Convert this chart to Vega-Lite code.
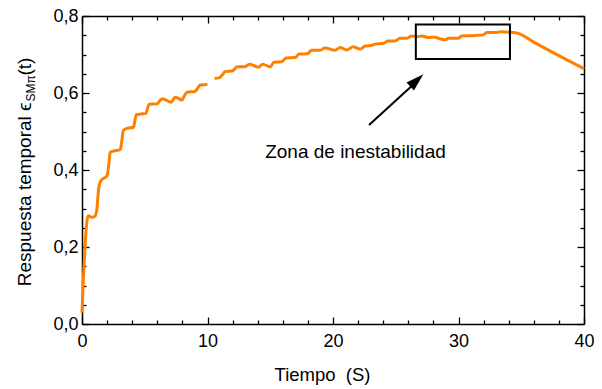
{
  "$schema": "https://vega.github.io/schema/vega-lite/v6.json",
  "width": 502,
  "height": 308,
  "autosize": {"type": "none"},
  "padding": {"left": 82, "top": 16, "right": 18, "bottom": 65},
  "background": "white",
  "config": {
    "view": {"stroke": null},
    "font": "Liberation Sans",
    "axis": {
      "grid": false,
      "domainColor": "black",
      "domainWidth": 1.5,
      "tickColor": "black",
      "tickWidth": 1.3,
      "labelColor": "black",
      "titleColor": "black",
      "labelFont": "Liberation Sans",
      "titleFont": "Liberation Sans",
      "labelFontSize": 18,
      "titleFontSize": 18.5,
      "titleFontWeight": "normal",
      "labelOverlap": false,
      "labelFlush": false
    }
  },
  "resolve": {"axis": {"x": "independent", "y": "independent"}},
  "layer": [
    {
      "data": {
        "values": [
          {"t": 0, "v": 0.03, "seg": 1},
          {"t": 0.1, "v": 0.11, "seg": 1},
          {"t": 0.24, "v": 0.2, "seg": 1},
          {"t": 0.37, "v": 0.26, "seg": 1},
          {"t": 0.5, "v": 0.281, "seg": 1},
          {"t": 0.77, "v": 0.277, "seg": 1},
          {"t": 1.03, "v": 0.28, "seg": 1},
          {"t": 1.17, "v": 0.295, "seg": 1},
          {"t": 1.35, "v": 0.357, "seg": 1},
          {"t": 1.5, "v": 0.372, "seg": 1},
          {"t": 2.0, "v": 0.386, "seg": 1},
          {"t": 2.12, "v": 0.41, "seg": 1},
          {"t": 2.25, "v": 0.446, "seg": 1},
          {"t": 2.5, "v": 0.449, "seg": 1},
          {"t": 3.05, "v": 0.453, "seg": 1},
          {"t": 3.15, "v": 0.47, "seg": 1},
          {"t": 3.3, "v": 0.503, "seg": 1},
          {"t": 3.6, "v": 0.508, "seg": 1},
          {"t": 4.1, "v": 0.511, "seg": 1},
          {"t": 4.2, "v": 0.525, "seg": 1},
          {"t": 4.32, "v": 0.543, "seg": 1},
          {"t": 4.6, "v": 0.545, "seg": 1},
          {"t": 5.1, "v": 0.547, "seg": 1},
          {"t": 5.2, "v": 0.558, "seg": 1},
          {"t": 5.36, "v": 0.571, "seg": 1},
          {"t": 5.98, "v": 0.572, "seg": 1},
          {"t": 6.2, "v": 0.58, "seg": 1},
          {"t": 6.42, "v": 0.585, "seg": 1},
          {"t": 7.1, "v": 0.576, "seg": 1},
          {"t": 7.3, "v": 0.585, "seg": 1},
          {"t": 7.43, "v": 0.589, "seg": 1},
          {"t": 7.98, "v": 0.582, "seg": 1},
          {"t": 8.15, "v": 0.592, "seg": 1},
          {"t": 8.36, "v": 0.602, "seg": 1},
          {"t": 9.0, "v": 0.604, "seg": 1},
          {"t": 9.2, "v": 0.612, "seg": 1},
          {"t": 9.42, "v": 0.621, "seg": 1},
          {"t": 10.0, "v": 0.622, "seg": 1},
          {"t": 10.56, "v": 0.638, "seg": 2},
          {"t": 10.96, "v": 0.64, "seg": 2},
          {"t": 11.2, "v": 0.648, "seg": 2},
          {"t": 11.41, "v": 0.656, "seg": 2},
          {"t": 11.96, "v": 0.657, "seg": 2},
          {"t": 12.15, "v": 0.662, "seg": 2},
          {"t": 12.36, "v": 0.668, "seg": 2},
          {"t": 12.95, "v": 0.668, "seg": 2},
          {"t": 13.35, "v": 0.675, "seg": 2},
          {"t": 14.06, "v": 0.667, "seg": 2},
          {"t": 14.4, "v": 0.675, "seg": 2},
          {"t": 15.0, "v": 0.668, "seg": 2},
          {"t": 15.3, "v": 0.68, "seg": 2},
          {"t": 15.9, "v": 0.681, "seg": 2},
          {"t": 16.27, "v": 0.691, "seg": 2},
          {"t": 16.98, "v": 0.692, "seg": 2},
          {"t": 17.3, "v": 0.701, "seg": 2},
          {"t": 17.96, "v": 0.702, "seg": 2},
          {"t": 18.3, "v": 0.711, "seg": 2},
          {"t": 18.97, "v": 0.711, "seg": 2},
          {"t": 19.37, "v": 0.717, "seg": 2},
          {"t": 20.17, "v": 0.711, "seg": 2},
          {"t": 20.57, "v": 0.718, "seg": 2},
          {"t": 21.1, "v": 0.712, "seg": 2},
          {"t": 21.6, "v": 0.72, "seg": 2},
          {"t": 22.16, "v": 0.714, "seg": 2},
          {"t": 22.56, "v": 0.722, "seg": 2},
          {"t": 23.1, "v": 0.724, "seg": 2},
          {"t": 23.35, "v": 0.727, "seg": 2},
          {"t": 24.0, "v": 0.729, "seg": 2},
          {"t": 24.4, "v": 0.735, "seg": 2},
          {"t": 24.95, "v": 0.735, "seg": 2},
          {"t": 25.34, "v": 0.742, "seg": 2},
          {"t": 25.87, "v": 0.742, "seg": 2},
          {"t": 26.27, "v": 0.748, "seg": 2},
          {"t": 26.67, "v": 0.746, "seg": 2},
          {"t": 27.07, "v": 0.748, "seg": 2},
          {"t": 27.6, "v": 0.744, "seg": 2},
          {"t": 28.13, "v": 0.745, "seg": 2},
          {"t": 28.5, "v": 0.741, "seg": 2},
          {"t": 28.93, "v": 0.738, "seg": 2},
          {"t": 29.19, "v": 0.742, "seg": 2},
          {"t": 29.98, "v": 0.742, "seg": 2},
          {"t": 30.25, "v": 0.748, "seg": 2},
          {"t": 31.05, "v": 0.749, "seg": 2},
          {"t": 31.98, "v": 0.751, "seg": 2},
          {"t": 32.25, "v": 0.757, "seg": 2},
          {"t": 33.04, "v": 0.757, "seg": 2},
          {"t": 33.3, "v": 0.759, "seg": 2},
          {"t": 34.1, "v": 0.758, "seg": 2},
          {"t": 34.76, "v": 0.755, "seg": 2},
          {"t": 36.0, "v": 0.732, "seg": 2},
          {"t": 40.0, "v": 0.663, "seg": 2}
        ]
      },
      "mark": {"type": "line", "color": "#FF8000", "strokeWidth": 3, "interpolate": "monotone", "strokeJoin": "round"},
      "encoding": {
        "x": {
          "field": "t", "type": "quantitative",
          "scale": {"domain": [0, 40], "nice": false, "zero": false},
          "axis": {
            "orient": "bottom",
            "values": [0, 10, 20, 30, 40],
            "tickSize": -7,
            "labelPadding": 15,
            "title": "Tiempo\u00a0 (S)",
            "titleX": 240,
            "titleY": 56,
            "titleBaseline": "alphabetic"
          }
        },
        "y": {
          "field": "v", "type": "quantitative",
          "scale": {"domain": [0, 0.8], "nice": false, "zero": false},
          "axis": {
            "orient": "left",
            "values": [0, 0.2, 0.4, 0.6, 0.8],
            "labelExpr": "replace(format(datum.value, '.1f'), '.', ',')",
            "tickSize": -7,
            "labelPadding": 11,
            "title": null
          }
        },
        "detail": {"field": "seg", "type": "nominal"}
      }
    },
    {
      "data": {"values": [{}]},
      "mark": {"type": "rect", "fill": null, "fillOpacity": 0, "stroke": "black", "strokeWidth": 2},
      "encoding": {
        "x": {
          "datum": 26.6, "type": "quantitative",
          "axis": {"orient": "top", "values": [0, 10, 20, 30, 40], "labels": false, "tickSize": -7, "title": null}
        },
        "x2": {"datum": 34.1},
        "y": {
          "datum": 0.688, "type": "quantitative",
          "axis": {"orient": "right", "values": [0, 0.2, 0.4, 0.6, 0.8], "labels": false, "tickSize": -7, "title": null}
        },
        "y2": {"datum": 0.778}
      }
    },
    {
      "data": {"values": [{}]},
      "mark": {"type": "rule", "color": "black", "strokeWidth": 2},
      "encoding": {
        "x": {
          "datum": 22.87, "type": "quantitative",
          "axis": {"orient": "bottom", "values": [2,4,6,8,12,14,16,18,22,24,26,28,32,34,36,38], "labels": false, "domain": false, "tickSize": -4, "title": null}
        },
        "y": {
          "datum": 0.517, "type": "quantitative",
          "axis": {"orient": "left", "values": [0.05,0.1,0.15,0.25,0.3,0.35,0.45,0.5,0.55,0.65,0.7,0.75], "labels": false, "domain": false, "tickSize": -4, "title": null}
        },
        "x2": {"datum": 26.6},
        "y2": {"datum": 0.628}
      }
    },
    {
      "data": {"values": [{}]},
      "mark": {"type": "point", "shape": "M0,0L0.6,2L-0.6,2Z", "filled": true, "color": "black", "opacity": 1, "size": 324, "angle": 46.8, "strokeWidth": 0},
      "encoding": {
        "x": {
          "datum": 27.2, "type": "quantitative",
          "axis": {"orient": "top", "values": [2,4,6,8,12,14,16,18,22,24,26,28,32,34,36,38], "labels": false, "domain": false, "tickSize": -4, "title": null}
        },
        "y": {
          "datum": 0.649, "type": "quantitative",
          "axis": {"orient": "right", "values": [0.05,0.1,0.15,0.25,0.3,0.35,0.45,0.5,0.55,0.65,0.7,0.75], "labels": false, "domain": false, "tickSize": -4, "title": null}
        }
      }
    },
    {
      "data": {"values": [{}]},
      "mark": {"type": "text", "text": "Zona de inestabilidad", "font": "Liberation Sans", "fontSize": 19, "align": "center", "baseline": "alphabetic", "color": "black"},
      "encoding": {
        "x": {"datum": 21.79, "type": "quantitative", "axis": null},
        "y": {"datum": 0.43, "type": "quantitative", "axis": null}
      }
    },
    {
      "data": {"values": [{}]},
      "mark": {"type": "text", "text": "Respuesta temporal ϵ", "font": "Liberation Sans", "fontSize": 19, "angle": 270, "align": "left", "baseline": "alphabetic", "color": "black"},
      "encoding": {
        "x": {"datum": -4.06, "type": "quantitative", "axis": null},
        "y": {"datum": 0.0981, "type": "quantitative", "axis": null}
      }
    },
    {
      "data": {"values": [{}]},
      "mark": {"type": "text", "text": "SMπ", "font": "Liberation Sans", "fontSize": 12, "angle": 270, "align": "left", "baseline": "alphabetic", "color": "black"},
      "encoding": {
        "x": {"datum": -3.76, "type": "quantitative", "axis": null},
        "y": {"datum": 0.578, "type": "quantitative", "axis": null}
      }
    },
    {
      "data": {"values": [{}]},
      "mark": {"type": "text", "text": "(t)", "font": "Liberation Sans", "fontSize": 19, "angle": 270, "align": "left", "baseline": "alphabetic", "color": "black"},
      "encoding": {
        "x": {"datum": -4.06, "type": "quantitative", "axis": null},
        "y": {"datum": 0.6452, "type": "quantitative", "axis": null}
      }
    }
  ]
}
